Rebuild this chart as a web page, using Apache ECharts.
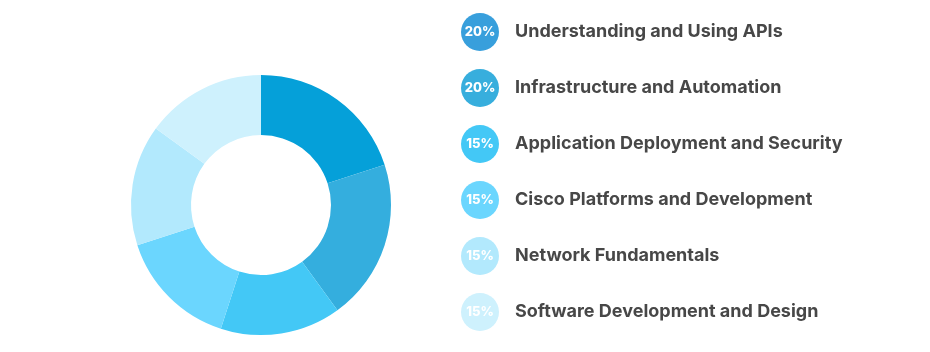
<!DOCTYPE html>
<html><head><meta charset="utf-8">
<script src="https://cdn.jsdelivr.net/npm/echarts@6/dist/echarts.min.js"></script>
<style>html,body{margin:0;padding:0;background:#fff}#c{width:930px;height:352px}</style>
</head><body><div id="c"></div>
<script>
const categories = ["Understanding and Using APIs","Infrastructure and Automation","Application Deployment and Security","Cisco Platforms and Development","Network Fundamentals","Software Development and Design"];
const values = [20,20,15,15,15,15];
const colors = ["#05a0d9","#34aede","#43c8f6","#6bd6fe","#b2e9fd","#cef1fd"];
const legendColors = ["#389fdc","#37aedd","#43c8f6","#6bd6fe","#b2e9fd","#cef1fd"];

const rich = {n:{fontSize:18,fontWeight:'bold',color:'#474747',fontFamily:'Inter',padding:[0,0,0,16]}};
legendColors.forEach((c,i)=>{
  rich['p'+i] = {width:38,height:38,lineHeight:38,borderRadius:19,backgroundColor:c,align:'center',
    color:'#fff',fontSize:13,fontWeight:800,fontFamily:'Inter'};
});
const chart = echarts.init(document.getElementById('c'));
chart.setOption({
  animation:false,
  color: colors,
  legend:{
    orient:'vertical', left:451, top:8, itemGap:18, icon:'none', itemWidth:0, itemHeight:0,
    selectedMode:false,
    data: categories,
    formatter: function(name){ const i = categories.indexOf(name); return '{p'+i+'|'+values[i]+'%}{n|'+name+'}'; },
    textStyle:{rich:rich}
  },
  series:[{
    type:'pie', center:[261,205], radius:[70,130], startAngle:90, clockwise:true,
    label:{show:false}, labelLine:{show:false}, silent:true,
    itemStyle:{borderWidth:0},
    data: categories.map((n,i)=>({name:n,value:values[i]}))
  }]
});
</script></body></html>
